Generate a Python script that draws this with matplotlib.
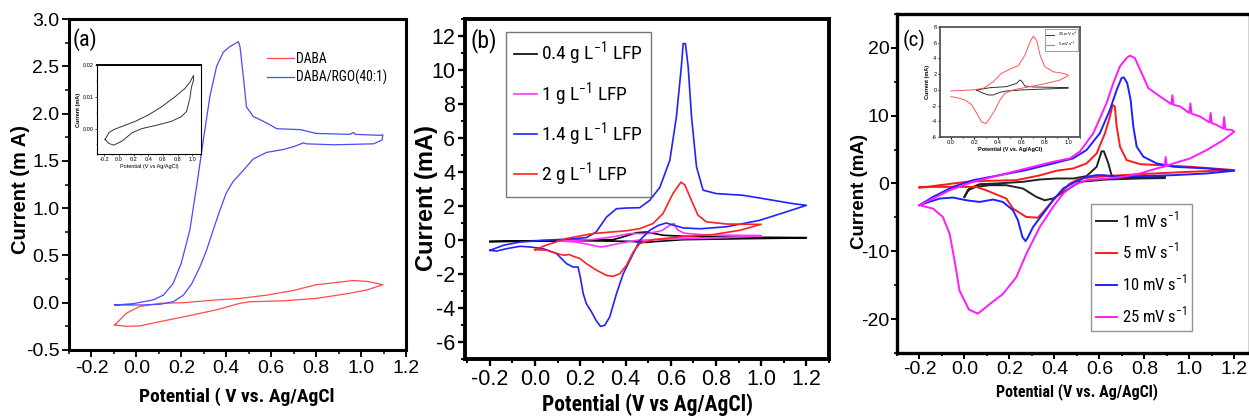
import matplotlib
matplotlib.use("Agg")
import matplotlib.pyplot as plt
import matplotlib.font_manager as fm
from matplotlib.font_manager import FontProperties
from matplotlib.ticker import MultipleLocator, FormatStrFormatter

plt.rcParams['font.family'] = ['Liberation Sans', 'DejaVu Sans']
plt.rcParams['axes.unicode_minus'] = False

# pick a condensed face for the labels that are set in a narrow type in the original
_entries = fm.fontManager.ttflist
_names = {f.name for f in _entries}
NARROW = dict(family='Liberation Sans', stretch='normal')
K = 0.83
for cand in ['Roboto Condensed', 'Liberation Sans Narrow', 'Arial Narrow', 'Open Sans Condensed']:
    if cand in _names:
        NARROW = dict(family=cand, stretch='normal')
        K = 1.0
        break
else:
    for fam in ['Noto Sans', 'Open Sans', 'DejaVu Sans']:
        if any(f.name == fam and f.stretch in ('condensed', 'semi-condensed') for f in _entries):
            NARROW = dict(family=fam, stretch='condensed')
            K = 0.95
            break
plt.rcParams['mathtext.fontset'] = 'custom'
plt.rcParams['mathtext.rm'] = NARROW['family']


def nfp(size, weight='normal'):
    return FontProperties(family=NARROW['family'], stretch=NARROW['stretch'], size=size * K, weight=weight)


# ---------------- data: panel (a) ----------------
a_daba_x = [-0.096, -0.044, 0.015, 0.105, 0.209, 0.357, 0.461, 0.58, 0.70, 0.80, 0.877, 0.966, 1.026, 1.07, 1.097,
            1.026, 0.95, 0.80, 0.654, 0.506, 0.461, 0.357, 0.209, 0.105, 0.015, -0.044, -0.096]
a_daba_y = [-0.235, -0.11, -0.04, -0.006, 0.0, 0.03, 0.045, 0.08, 0.13, 0.19, 0.21, 0.235, 0.225, 0.205, 0.19,
            0.135, 0.10, 0.045, 0.02, 0.01, -0.006, -0.075, -0.15, -0.2, -0.245, -0.25, -0.235]
a_rgo_x = [-0.096, -0.014, 0.075, 0.12, 0.164, 0.20, 0.238, 0.268, 0.298, 0.327, 0.357, 0.387, 0.417, 0.44, 0.454,
           0.461, 0.476, 0.49, 0.52, 0.58, 0.625, 0.73, 0.80, 0.95, 0.966, 0.975, 1.085, 1.097,
           1.093, 1.056, 0.877, 0.757, 0.743, 0.70, 0.654, 0.58, 0.52, 0.476, 0.43, 0.40, 0.372, 0.342, 0.313,
           0.283, 0.246, 0.209, 0.164, 0.105, 0.015, -0.096]
a_rgo_y = [-0.024, -0.01, 0.03, 0.08, 0.205, 0.42, 0.77, 1.23, 1.72, 2.18, 2.5, 2.65, 2.71, 2.74, 2.76,
           2.71, 2.39, 2.07, 1.97, 1.90, 1.84, 1.83, 1.79, 1.78, 1.80, 1.78, 1.77, 1.775,
           1.72, 1.68, 1.67, 1.68, 1.69, 1.65, 1.62, 1.59, 1.52, 1.40, 1.28, 1.16, 0.98, 0.77, 0.56,
           0.38, 0.20, 0.08, 0.01, -0.017, -0.024, -0.024]
a_ins_x = [-0.19, -0.137, -0.07, 0.044, 0.224, 0.404, 0.585, 0.765, 0.90, 0.968, 1.018,
           1.018, 0.99, 0.968, 0.923, 0.855, 0.72, 0.54, 0.314, 0.18, 0.044, -0.07, -0.137, -0.19]
a_ins_y = [-0.0034, -0.0013, -0.0003, 0.0007, 0.0023, 0.0043, 0.0069, 0.01, 0.0126, 0.0146, 0.0167,
           0.0152, 0.0131, 0.0095, 0.0054, 0.0038, 0.0023, 0.0012, 0.0, -0.0013, -0.0039, -0.0052, -0.0047, -0.0034]

# ---------------- data: panel (b) ----------------
b_04_x = [-0.2, 0.345, 0.389, 0.448, 0.493, 0.566, 0.654, 0.8, 1.2, 1.2, 0.94, 0.654, 0.522, 0.493, 0.42, 0.2, -0.2]
b_04_y = [-0.08, 0.02, 0.18, 0.43, 0.47, 0.28, 0.22, 0.18, 0.14, 0.12, 0.08, 0.02, -0.1, -0.14, -0.08, -0.04, -0.1]
b_1_x = [0.1, 0.25, 0.35, 0.42, 0.5, 0.56, 0.6, 0.614, 0.63, 0.66, 0.75, 1.0,
         1.0, 0.8, 0.6, 0.45, 0.38, 0.32, 0.29, 0.25, 0.18, 0.1]
b_1_y = [-0.05, 0.02, 0.2, 0.38, 0.38, 0.55, 0.9, 0.97, 0.6, 0.4, 0.3, 0.26,
         0.22, 0.13, 0.05, -0.02, -0.18, -0.35, -0.41, -0.3, -0.12, -0.05]
b_14_x = [-0.2, -0.14, -0.067, 0.036, 0.154, 0.227, 0.27, 0.316, 0.36, 0.404, 0.463, 0.507, 0.552, 0.596, 0.625,
          0.647, 0.655, 0.665, 0.677, 0.692, 0.714, 0.743, 0.802, 0.92, 1.038, 1.14, 1.2,
          1.11, 0.994, 0.847, 0.73, 0.655, 0.61, 0.58, 0.545, 0.507, 0.463, 0.434, 0.39, 0.36, 0.33, 0.308,
          0.289, 0.27, 0.25, 0.227, 0.213, 0.2, 0.19, 0.168, 0.139, 0.095, 0.036, -0.023, -0.067, -0.126, -0.17, -0.2]
b_14_y = [-0.61, -0.31, -0.12, -0.02, 0.06, 0.14, 0.47, 1.35, 1.84, 1.88, 1.9, 2.33, 3.1, 4.69, 7.24,
          10.2, 11.55, 11.55, 10.2, 7.24, 4.3, 2.93, 2.73, 2.63, 2.37, 2.14, 2.04,
          1.65, 1.16, 0.78, 0.66, 0.71, 0.88, 1.0, 0.86, 0.57, -0.02, -0.8, -1.98, -3.16, -4.53, -5.02,
          -5.08, -4.73, -4.24, -3.75, -3.16, -2.18, -1.59, -1.59, -1.39, -0.8, -0.51, -0.41, -0.37, -0.51, -0.65, -0.61]
b_2_x = [0.0, 0.05, 0.139, 0.257, 0.345, 0.404, 0.463, 0.522, 0.566, 0.61, 0.645, 0.662, 0.691, 0.72, 0.757,
         0.846, 1.0, 1.0, 0.905, 0.787, 0.64, 0.522, 0.463, 0.434, 0.404, 0.375, 0.345, 0.316, 0.272, 0.227,
         0.198, 0.168, 0.15, 0.13, 0.109, 0.05, 0.0]
b_2_y = [-0.57, -0.3, 0.09, 0.38, 0.48, 0.54, 0.67, 0.97, 1.56, 2.74, 3.4, 3.25, 2.35, 1.47, 1.07,
         0.94, 0.92, 0.92, 0.57, 0.32, 0.18, 0.02, -0.21, -0.71, -1.49, -1.98, -2.14, -2.08, -1.78, -1.39,
         -1.09, -0.95, -0.85, -0.9, -0.84, -0.6, -0.57]

# ---------------- data: panel (c) ----------------
c_1_x = [0.0, 0.022, 0.067, 0.142, 0.26, 0.335, 0.409, 0.484, 0.543, 0.588, 0.61, 0.62, 0.64, 0.654, 0.677, 0.781,
         0.892, 0.892, 0.781, 0.632, 0.513, 0.454, 0.394, 0.357, 0.32, 0.26, 0.186, 0.112, 0.052, 0.015, 0.0]
c_1_y = [-1.98, -0.74, -0.1, 0.0, 0.25, 0.59, 0.74, 0.74, 1.09, 2.47, 4.75, 4.75, 2.96, 1.23, 0.99, 0.89,
         0.99, 0.8, 0.74, 0.59, 0.25, -0.99, -2.22, -2.47, -1.98, -0.74, -0.25, -0.25, -0.49, -0.99, -1.98]
c_5_x = [-0.2, -0.11, 0.008, 0.112, 0.231, 0.335, 0.409, 0.484, 0.543, 0.588, 0.625, 0.647, 0.659, 0.669, 0.677,
         0.692, 0.721, 0.781, 0.855, 1.004, 1.2, 1.2, 1.004, 0.781, 0.632, 0.513, 0.469, 0.424, 0.394, 0.35,
         0.327, 0.275, 0.216, 0.186, 0.097, 0.053, -0.2]
c_5_y = [-0.64, -0.25, 0.25, 0.4, 0.49, 1.2, 1.88, 2.22, 2.96, 4.44, 7.4, 9.88, 11.6, 11.36, 8.4,
         5.43, 3.46, 2.86, 2.72, 2.47, 1.98, 1.98, 1.73, 1.38, 1.09, 0.74, 0.0, -1.48, -2.47, -4.2,
         -5.04, -4.94, -3.7, -2.22, -1.0, -0.5, -0.5]
c_10_x = [-0.2, -0.14, -0.051, 0.038, 0.157, 0.275, 0.394, 0.483, 0.543, 0.602, 0.647, 0.677, 0.699, 0.709, 0.724,
          0.739, 0.751, 0.766, 0.796, 0.855, 0.929, 1.078, 1.2, 1.078, 0.929, 0.781, 0.662, 0.617, 0.588, 0.543,
          0.484, 0.439, 0.394, 0.35, 0.305, 0.283, 0.272, 0.258, 0.238, 0.216, 0.171, 0.127, 0.067, 0.008,
          -0.051, -0.11, -0.17, -0.2]
c_10_y = [-3.2, -1.98, -0.49, 0.49, 1.23, 1.98, 2.96, 3.7, 4.94, 7.4, 10.86, 13.8, 15.56, 15.65, 14.8,
          12.35, 8.4, 5.43, 3.95, 2.96, 2.47, 2.22, 1.88, 1.48, 1.23, 1.09, 1.09, 1.23, 1.23, 0.99,
          0.1, -0.74, -2.47, -4.44, -6.42, -7.9, -8.5, -7.9, -5.43, -3.95, -2.72, -2.37, -2.72, -2.47,
          -2.07, -2.22, -2.86, -3.2]
c_25_x = [-0.2, -0.155, -0.066, 0.038, 0.157, 0.275, 0.394, 0.469, 0.513, 0.573, 0.632, 0.662, 0.692, 0.721,
          0.736, 0.758, 0.788, 0.818, 0.87, 0.92, 0.925, 0.93, 0.959, 1.0, 1.005, 1.01, 1.048, 1.09, 1.095,
          1.1, 1.122, 1.15, 1.155, 1.16, 1.189, 1.2,
          1.152, 1.078, 1.004, 0.929, 0.9, 0.895, 0.89, 0.855, 0.781, 0.706, 0.632, 0.543, 0.484, 0.439,
          0.394, 0.335, 0.275, 0.231, 0.171, 0.112, 0.06, 0.02, -0.022, -0.044, -0.066, -0.096, -0.14, -0.2]
c_25_y = [-3.2, -2.47, -1.0, 0.25, 1.23, 2.22, 3.2, 3.7, 4.7, 7.4, 11.85, 14.8, 17.3, 18.5,
          18.86, 18.5, 16.3, 14.07, 12.84, 11.7, 13.0, 11.6, 11.36, 10.4, 11.8, 10.3, 9.88, 9.0, 10.4,
          8.9, 8.64, 8.1, 9.8, 8.0, 7.9, 7.65,
          6.42, 4.94, 3.7, 2.96, 2.6, 3.9, 2.5, 2.22, 1.48, 0.99, 0.74, 0.49, -0.25, -1.48,
          -3.46, -6.42, -10.4, -13.8, -16.3, -17.8, -19.2, -18.6, -15.8, -11.36, -7.4, -4.94, -3.7, -3.2]
c_ins5_x = [0.0, 0.19, 0.276, 0.36, 0.43, 0.503, 0.574, 0.63, 0.673, 0.702, 0.73, 0.76, 0.8, 0.872, 0.957, 1.0,
            1.0, 0.93, 0.815, 0.673, 0.531, 0.46, 0.418, 0.375, 0.332, 0.298, 0.261, 0.219, 0.176, 0.12, 0.048, 0.0]
c_ins5_y = [-0.14, 0.0, 0.2, 1.04, 2.1, 2.64, 3.07, 4.4, 6.1, 6.82, 6.3, 4.4, 2.94, 2.3, 2.1, 1.88,
            1.8, 1.25, 0.83, 0.41, 0.0, -0.44, -1.28, -2.54, -3.6, -4.3, -4.1, -2.97, -1.9, -1.28, -0.98, -0.86]
c_ins25_x = [0.219, 0.332, 0.474, 0.56, 0.588, 0.602, 0.63, 0.70, 1.0, 1.0, 0.616, 0.474, 0.418, 0.36, 0.318, 0.261, 0.219]
c_ins25_y = [-0.02, 0.28, 0.41, 0.83, 1.25, 1.12, 0.49, 0.37, 0.28, 0.22, 0.0, -0.14, -0.31, -0.65, -0.65, -0.35, -0.02]

W, H = 1249, 417
fig = plt.figure(figsize=(W / 100, H / 100), dpi=100)


def box(l, t, r, b):
    return [l / W, 1 - b / H, (r - l) / W, (b - t) / H]


def style(ax, lw, fs, xmaj, xmin, ymaj, ymin, xfmt, yfmt, tl=5, pad=2, color='black'):
    for s in ax.spines.values():
        s.set_linewidth(lw)
        s.set_edgecolor(color)
    ax.xaxis.set_major_locator(MultipleLocator(xmaj))
    ax.xaxis.set_minor_locator(MultipleLocator(xmin))
    ax.yaxis.set_major_locator(MultipleLocator(ymaj))
    ax.yaxis.set_minor_locator(MultipleLocator(ymin))
    ax.xaxis.set_major_formatter(FormatStrFormatter(xfmt))
    ax.yaxis.set_major_formatter(FormatStrFormatter(yfmt))
    ax.tick_params(which='major', direction='out', length=tl, width=lw * 0.6, labelsize=fs, pad=pad)
    ax.tick_params(which='minor', direction='out', length=tl * 0.6, width=lw * 0.5)


# ---------------- panel (a) ----------------
ax_a = fig.add_axes(box(69, 19, 406, 350))
ax_a.plot(a_daba_x, a_daba_y, color='#ff4a4a', lw=0.9, label='DABA')
ax_a.plot(a_rgo_x, a_rgo_y, color='#4a4aff', lw=0.9, label='DABA/RGO(40:1)')
ax_a.set_xlim(-0.3, 1.2)
ax_a.set_ylim(-0.5, 3.0)
style(ax_a, 2.2, 14, 0.2, 0.1, 0.5, 0.25, '%.1f', '%.1f', tl=5, pad=2)
ax_a.legend(loc='upper left', bbox_to_anchor=(0.587, 0.9), frameon=False, prop=nfp(9.8),
            handlelength=2.0, handletextpad=0.15, labelspacing=0.25, borderpad=0, borderaxespad=0)
fig.text(73 / W, 1 - 40 / H, '(a)', fontproperties=nfp(16), ha='left', va='center')
fig.text(21 / W, 1 - 189 / H, 'Current (m A)', weight='bold',
         fontsize=14.5, rotation=90, ha='center', va='center')
fig.text(237 / W, 1 - 397 / H, 'Potential ( V vs. Ag/AgCl', fontproperties=nfp(14, 'bold'),
         ha='center', va='center')

ins_a = fig.add_axes(box(97, 65, 201, 154))
ins_a.plot(a_ins_x, a_ins_y, color='#333333', lw=0.7)
ins_a.set_xlim(-0.3, 1.12)
ins_a.set_ylim(-0.008, 0.02)
style(ins_a, 0.8, 4, 0.2, 0.1, 0.01, 0.005, '%.1f', '%.2f', tl=1.5, pad=1)
ins_a.spines['top'].set_linewidth(1.4)
ins_a.set_ylabel('Current (mA)', fontsize=4, weight='bold', labelpad=1)
ins_a.set_xlabel('Potential (V vs Ag/AgCl)', fontsize=4, labelpad=1)

# ---------------- panel (b) ----------------
ax_b = fig.add_axes(box(465, 19, 829, 359))
ax_b.plot(b_04_x, b_04_y, color='black', lw=1.2, label='0.4 g L$^{-1}$ LFP')
ax_b.plot(b_1_x, b_1_y, color='#ff33ff', lw=1.2, label='1 g L$^{-1}$ LFP')
ax_b.plot(b_14_x, b_14_y, color='#2222ff', lw=1.2, label='1.4 g L$^{-1}$ LFP')
ax_b.plot(b_2_x, b_2_y, color='#ff2222', lw=1.2, label='2 g L$^{-1}$ LFP')
ax_b.set_xlim(-0.31, 1.3)
ax_b.set_ylim(-7, 13)
style(ax_b, 2.8, 15.5, 0.2, 0.1, 2, 1, '%.1f', '%d', tl=5, pad=2)
lg = ax_b.legend(loc='upper left', bbox_to_anchor=(0.112, 0.963), prop=nfp(14), fancybox=False,
                 handlelength=1.2, handletextpad=0.2, labelspacing=0.6, borderpad=0.42, borderaxespad=0)
lg.get_frame().set_edgecolor('#555555')
lg.get_frame().set_linewidth(1.0)
fig.text(470 / W, 1 - 41 / H, '(b)', fontproperties=nfp(17), ha='left', va='center')
fig.text(426 / W, 1 - 198 / H, 'Current (mA)', weight='bold',
         fontsize=17, rotation=90, ha='center', va='center')
fig.text(648 / W, 1 - 405 / H, 'Potential (V vs Ag/AgCl)', fontproperties=nfp(15.5, 'bold'),
         ha='center', va='center')

# ---------------- panel (c) ----------------
ax_c = fig.add_axes(box(897, 14, 1250, 353))
ax_c.plot(c_1_x, c_1_y, color='#222222', lw=1.4, label='1 mV s$^{-1}$')
ax_c.plot(c_5_x, c_5_y, color='#ff1a1a', lw=1.4, label='5 mV s$^{-1}$')
ax_c.plot(c_10_x, c_10_y, color='#2020ff', lw=1.4, label='10 mV s$^{-1}$')
ax_c.plot(c_25_x, c_25_y, color='#ff1aff', lw=1.4, label='25 mV s$^{-1}$')
ax_c.set_xlim(-0.3, 1.27)
ax_c.set_ylim(-25, 25)
style(ax_c, 2.4, 14, 0.2, 0.1, 10, 5, '%.1f', '%d', tl=4, pad=1.5)
lg = ax_c.legend(loc='upper left', bbox_to_anchor=(0.549, 0.4386), prop=nfp(12), fancybox=False,
                 handlelength=1.3, handletextpad=0.25, labelspacing=0.68, borderpad=0.3, borderaxespad=0)
lg.get_frame().set_edgecolor('#777777')
lg.get_frame().set_linewidth(1.0)
fig.text(903 / W, 1 - 40 / H, '(c)', fontproperties=nfp(15), ha='left', va='center')
fig.text(859 / W, 1 - 191 / H, 'Current (mA)', weight='bold',
         fontsize=13.5, rotation=90, ha='center', va='center')
fig.text(1077 / W, 1 - 392 / H, 'Potential (V vs. Ag/AgCl)', fontproperties=nfp(11.5, 'bold'),
         ha='center', va='center')

ins_c = fig.add_axes(box(940, 27, 1080, 137))
ins_c.plot(c_ins25_x, c_ins25_y, color='#333333', lw=0.7, label='25 mV s$^{-1}$')
ins_c.plot(c_ins5_x, c_ins5_y, color='#ff5555', lw=0.7, label='5 mV s$^{-1}$')
ins_c.set_xlim(-0.094, 1.1)
ins_c.set_ylim(-6, 8)
style(ins_c, 1.3, 4, 0.2, 0.1, 2, 1, '%.1f', '%d', tl=1.5, pad=1, color='#555555')
ins_c.set_ylabel('Current (mA)', fontsize=4, weight='bold', labelpad=1)
ins_c.set_xlabel('Potential (V vs. Ag/AgCl)', fontsize=4, weight='bold', labelpad=1)
lgi = ins_c.legend(loc='upper right', fontsize=3, fancybox=False, handlelength=2, borderpad=0.3,
                   labelspacing=0.2, borderaxespad=0.4)
lgi.get_frame().set_edgecolor('#555555')
lgi.get_frame().set_linewidth(0.5)

fig.savefig('out.png', dpi=100)
